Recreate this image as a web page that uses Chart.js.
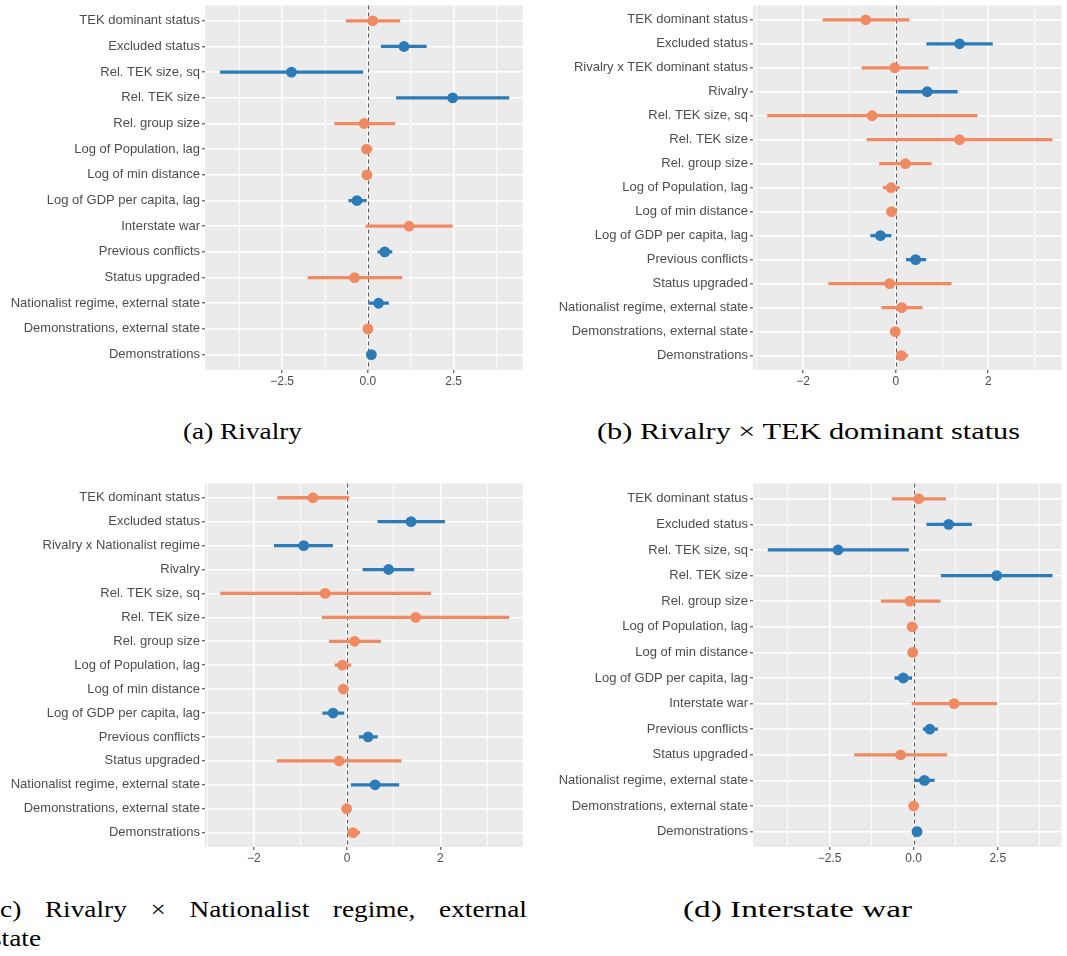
<!DOCTYPE html>
<html><head><meta charset="utf-8">
<script src="https://cdn.jsdelivr.net/npm/chart.js@4.4.1/dist/chart.umd.min.js"></script>
<style>
html,body{margin:0;padding:0;background:#fff;overflow:hidden;width:1067px;height:956px;}
canvas{position:absolute;}
.cap{position:absolute;font-family:'Liberation Serif','Times New Roman',serif;font-size:23px;line-height:23px;white-space:nowrap;color:#000;transform-origin:0 0;}
.just{display:flex;justify-content:space-between;}
</style></head><body>
<canvas id="pa" width="535" height="400" style="left:0;top:0"></canvas>
<canvas id="pb" width="527" height="400" style="left:540px;top:0"></canvas>
<canvas id="pc" width="535" height="400" style="left:0;top:478px"></canvas>
<canvas id="pd" width="527" height="400" style="left:540px;top:478px"></canvas>
<div class="cap" id="capA">(a) Rivalry</div>
<div class="cap" id="capB">(b) Rivalry × TEK dominant status</div>
<div class="cap just" id="capC1"><span>(c)</span><span>Rivalry</span><span>×</span><span>Nationalist</span><span>regime,</span><span>external</span></div>
<div class="cap" id="capC2">state</div>
<div class="cap" id="capD">(d) Interstate war</div>
<script>
// ---------- data ----------
const labelsA = ["TEK dominant status","Excluded status","Rel. TEK size, sq","Rel. TEK size","Rel. group size","Log of Population, lag","Log of min distance","Log of GDP per capita, lag","Interstate war","Previous conflicts","Status upgraded","Nationalist regime, external state","Demonstrations, external state","Demonstrations"];
const estA = [0.14, 1.05, -2.23, 2.47, -0.11, -0.04, -0.03, -0.32, 1.20, 0.49, -0.39, 0.31, 0.00, 0.10];
const loA  = [-0.63, 0.39, -4.30, 0.83, -0.97, -0.15, -0.08, -0.56, -0.06, 0.29, -1.75, 0.02, -0.05, 0.05];
const hiA  = [0.93, 1.70, -0.15, 4.11, 0.78, 0.12, 0.02, -0.05, 2.46, 0.70, 0.99, 0.60, 0.05, 0.15];
const sigA = [false, true, true, true, false, false, false, true, false, true, false, true, false, true];

const labelsB = ["TEK dominant status","Excluded status","Rivalry x TEK dominant status","Rivalry","Rel. TEK size, sq","Rel. TEK size","Rel. group size","Log of Population, lag","Log of min distance","Log of GDP per capita, lag","Previous conflicts","Status upgraded","Nationalist regime, external state","Demonstrations, external state","Demonstrations"];
const estB = [-0.65, 1.38, -0.02, 0.68, -0.51, 1.38, 0.21, -0.10, -0.09, -0.33, 0.43, -0.13, 0.13, -0.01, 0.12];
const loB  = [-1.57, 0.67, -0.73, 0.05, -2.77, -0.62, -0.35, -0.27, -0.16, -0.54, 0.23, -1.45, -0.30, -0.06, 0.00];
const hiB  = [0.29, 2.09, 0.70, 1.33, 1.76, 3.38, 0.77, 0.08, 0.02, -0.10, 0.65, 1.20, 0.57, 0.04, 0.26];
const sigB = [false, true, false, true, false, false, false, false, false, true, true, false, false, false, false];

const labelsC = ["TEK dominant status","Excluded status","Rivalry x Nationalist regime","Rivalry","Rel. TEK size, sq","Rel. TEK size","Rel. group size","Log of Population, lag","Log of min distance","Log of GDP per capita, lag","Previous conflicts","Status upgraded","Nationalist regime, external state","Demonstrations, external state","Demonstrations"];
const estC = [-0.73, 1.37, -0.93, 0.89, -0.47, 1.47, 0.16, -0.10, -0.08, -0.30, 0.45, -0.17, 0.60, -0.01, 0.13];
const loC  = [-1.49, 0.66, -1.56, 0.34, -2.71, -0.53, -0.38, -0.26, -0.14, -0.52, 0.26, -1.50, 0.09, -0.05, 0.01];
const hiC  = [0.04, 2.09, -0.31, 1.43, 1.79, 3.47, 0.72, 0.08, -0.02, -0.07, 0.65, 1.16, 1.11, 0.03, 0.27];
const sigC = [false, true, true, true, false, false, false, false, false, true, true, false, true, false, false];

const labelsD = ["TEK dominant status","Excluded status","Rel. TEK size, sq","Rel. TEK size","Rel. group size","Log of Population, lag","Log of min distance","Log of GDP per capita, lag","Interstate war","Previous conflicts","Status upgraded","Nationalist regime, external state","Demonstrations, external state","Demonstrations"];
const estD = [0.15, 1.04, -2.25, 2.47, -0.11, -0.05, -0.03, -0.31, 1.20, 0.48, -0.39, 0.32, 0.00, 0.10];
const loD  = [-0.64, 0.39, -4.33, 0.82, -0.96, -0.16, -0.08, -0.56, -0.05, 0.28, -1.76, 0.00, -0.05, 0.05];
const hiD  = [0.95, 1.72, -0.15, 4.12, 0.79, 0.11, 0.02, -0.06, 2.47, 0.71, 0.99, 0.61, 0.05, 0.15];
const sigD = [false, true, true, true, false, false, false, true, false, true, false, true, false, true];

// x-axis ticks (major labelled, minor unlabelled)
const tickValsQuarter = [-3.75, -2.5, -1.25, 0, 1.25, 2.5, 3.75];
const tickTextQuarter = ["", "\u22122.5", "", "0.0", "", "2.5", ""];
const tickValsUnit = [-3, -2, -1, 0, 1, 2, 3];
const tickTextUnit = ["", "\u22122", "", "0", "", "2", ""];

// ---------- drawing ----------
const BLUE = '#2C7BB6', ORANGE = '#EF8A62';
Chart.defaults.font.family = "'Liberation Sans', Arial, Helvetica, sans-serif";

const bgPlugin = { id: 'panelBg', beforeDraw(chart) {
  const {ctx, chartArea: a} = chart;
  ctx.save(); ctx.fillStyle = '#EBEBEB'; ctx.fillRect(a.left, a.top, a.right - a.left, a.bottom - a.top); ctx.restore();
}};
const zeroPlugin = { id: 'zeroLine', beforeDatasetsDraw(chart) {
  const {ctx, chartArea: a, scales: {x}} = chart;
  const px = Math.round(x.getPixelForValue(0)) + 0.5;
  ctx.save(); ctx.strokeStyle = '#5E5E5E'; ctx.lineWidth = 1.1; ctx.setLineDash([4, 3]);
  ctx.beginPath(); ctx.moveTo(px, a.top); ctx.lineTo(px, a.bottom); ctx.stroke(); ctx.restore();
}};

function makePanel(id, p) {
  const n = p.labels.length;
  const col = p.sig.map(s => s ? BLUE : ORANGE);
  return new Chart(document.getElementById(id), {
    type: 'scatter',
    data: { datasets: [
      { type: 'scatter', data: p.est.map((v, i) => ({x: v, y: i})), pointRadius: 5.4, pointHoverRadius: 5.4,
        pointBackgroundColor: col, pointBorderColor: col, pointBorderWidth: 0, order: 0 },
      { type: 'bar', indexAxis: 'y', data: p.lo.map((l, i) => ({y: i, x: [l, p.hi[i]]})),
        backgroundColor: col, barThickness: 2.6, borderWidth: 0, borderSkipped: false, grouped: false, order: 1 }
    ]},
    options: {
      responsive: false, animation: false, events: [],
      layout: { padding: { top: p.padTop, right: p.padRight, bottom: 0, left: 0 } },
      plugins: { legend: { display: false }, tooltip: { enabled: false } },
      scales: {
        x: { type: 'linear', min: p.xmin, max: p.xmax, offset: false, beginAtZero: false,
          afterBuildTicks: s => { s.ticks = p.tickVals.map(v => ({value: v})); },
          afterFit: s => { s.height = p.xh; s.paddingLeft = 0; s.paddingRight = 0; },
          ticks: { autoSkip: false, maxRotation: 0, minRotation: 0, padding: 1, color: '#4D4D4D', font: { size: 12 },
            callback: (v, i) => p.tickText[i] },
          grid: { offset: false, color: '#FFFFFF', lineWidth: c => p.tickText[c.index] ? 1.6 : 0.8, tickLength: 3,
            tickColor: c => p.tickText[c.index] ? '#333333' : 'rgba(0,0,0,0)', tickWidth: 1 },
          border: { display: false } },
        y: { type: 'linear', reverse: true, min: -0.6, max: n - 0.4, offset: false, beginAtZero: false,
          afterBuildTicks: s => { s.ticks = p.labels.map((_, i) => ({value: i})); },
          afterFit: s => { s.width = p.yw; s.paddingTop = 0; s.paddingBottom = 0; },
          ticks: { autoSkip: false, padding: 2, color: '#4D4D4D', font: { size: 13 },
            callback: (v, i) => p.labels[i] },
          grid: { offset: false, color: '#FFFFFF', lineWidth: 1.6, tickLength: 3, tickColor: '#333333', tickWidth: 1 },
          border: { display: false } }
      }
    },
    plugins: [bgPlugin, zeroPlugin]
  });
}

makePanel('pa', { labels: labelsA, est: estA, lo: loA, hi: hiA, sig: sigA, xmin: -4.75, xmax: 4.52,
  tickVals: tickValsQuarter, tickText: tickTextQuarter, yw: 205, xh: 30, padTop: 5, padRight: 12 });
makePanel('pb', { labels: labelsB, est: estB, lo: loB, hi: hiB, sig: sigB, xmin: -3.085, xmax: 3.585,
  tickVals: tickValsUnit, tickText: tickTextUnit, yw: 213, xh: 30, padTop: 5, padRight: 0 });
makePanel('pc', { labels: labelsC, est: estC, lo: loC, hi: hiC, sig: sigC, xmin: -3.045, xmax: 3.77,
  tickVals: tickValsUnit, tickText: tickTextUnit, yw: 205, xh: 31, padTop: 5, padRight: 12 });
makePanel('pd', { labels: labelsD, est: estD, lo: loD, hi: hiD, sig: sigD, xmin: -4.78, xmax: 4.40,
  tickVals: tickValsQuarter, tickText: tickTextQuarter, yw: 213, xh: 31, padTop: 5, padRight: 0 });

// ---------- captions ----------
function placeCaptions() {
  const ASC = 19.26;
  function fit(id, left, baseline, width) {
    const el = document.getElementById(id);
    el.style.left = left + 'px'; el.style.top = (baseline - ASC) + 'px';
    el.style.transform = 'none';
    const w = el.getBoundingClientRect().width;
    const k = width / w;
    el.style.transform = 'scaleX(' + k + ')';
    return k;
  }
  const k = fit('capA', 183, 439.3, 119);
  fit('capB', 597, 439.3, 423);
  fit('capD', 683, 917, 229);
  const c1 = document.getElementById('capC1');
  c1.style.left = '-9px'; c1.style.top = (917 - ASC) + 'px';
  c1.style.width = (536 / k) + 'px';
  c1.style.transform = 'scaleX(' + k + ')';
  const c2 = document.getElementById('capC2');
  c2.style.left = '-9px'; c2.style.top = (946 - ASC) + 'px';
  c2.style.transform = 'scaleX(' + k + ')';
}
placeCaptions();
if (document.fonts && document.fonts.ready) document.fonts.ready.then(placeCaptions);
</script>
</body></html>
